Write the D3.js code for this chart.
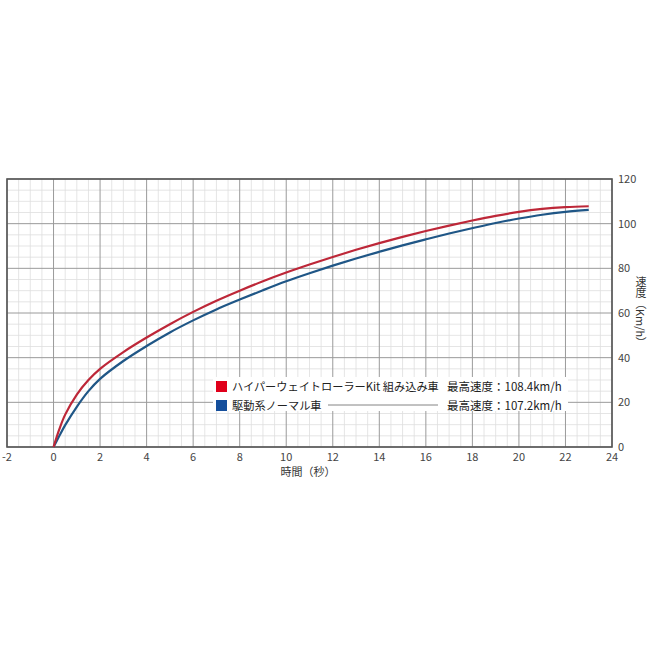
<!DOCTYPE html>
<html>
<head>
<meta charset="utf-8">
<script src="https://cdn.jsdelivr.net/npm/d3@7"></script>
<style>
    body { margin: 0; background: #fff; }
    text { font-family: "Noto Sans CJK JP", "Noto Sans", sans-serif; }
</style>
</head>
<body>
<div id="chart"></div>
<script>
// time (s)
const times = [0, 0.25, 0.5, 1, 1.5, 2, 3, 4, 5, 6, 7, 8, 9, 10, 11, 12, 13, 14, 15, 16, 17, 18, 19, 20, 21, 22, 23];
// speed km/h, high weight roller kit
const kitSpeed = [0, 8, 14.5, 23.5, 30, 35, 42.5, 49, 55, 60.5, 65.5, 70, 74.2, 78.1, 81.7, 85.1, 88.3, 91.3, 94.1, 96.7, 99.1, 101.4, 103.5, 105.3, 106.6, 107.4, 107.8];
// speed km/h, normal drive
const normalSpeed = [0, 5, 9.8, 18, 25, 30.5, 38.5, 45.2, 51.3, 56.7, 61.6, 66, 70.2, 74.2, 77.8, 81.2, 84.4, 87.4, 90.3, 93, 95.6, 98, 100.3, 102.3, 104, 105.3, 106.2];

const xTicks = d3.range(-2, 25, 2);
const yTicks = d3.range(0, 121, 20);
const legendNames = ['ハイパーウェイトローラーKit 組み込み車', '駆動系ノーマル車'];
const legendMax = ['最高速度：108.4km/h', '最高速度：107.2km/h'];

const svgWidth = 650;
const svgHeight = 650;

const svg = d3.select('#chart')
    .append('svg')
    .attr('width', svgWidth)
    .attr('height', svgHeight);

const x = d3.scaleLinear().domain([-2, 24]).range([7, 612]);
const y = d3.scaleLinear().domain([0, 120]).range([447, 179]);

// minor grid
svg.append('g')
    .selectAll('line')
    .data(d3.range(-2, 24.01, 0.5).filter(v => v % 2 !== 0))
    .join('line')
    .attr('x1', d => x(d)).attr('x2', d => x(d))
    .attr('y1', y(0)).attr('y2', y(120))
    .attr('stroke', '#dedede').attr('stroke-width', 0.8);

svg.append('g')
    .selectAll('line')
    .data(d3.range(0, 120.01, 5).filter(v => v % 20 !== 0))
    .join('line')
    .attr('x1', x(-2)).attr('x2', x(24))
    .attr('y1', d => y(d)).attr('y2', d => y(d))
    .attr('stroke', '#dedede').attr('stroke-width', 0.8);

// major grid
svg.append('g')
    .selectAll('line')
    .data(xTicks)
    .join('line')
    .attr('x1', d => x(d)).attr('x2', d => x(d))
    .attr('y1', y(0)).attr('y2', y(120))
    .attr('stroke', '#9a9a9a').attr('stroke-width', 1);

svg.append('g')
    .selectAll('line')
    .data(yTicks)
    .join('line')
    .attr('x1', x(-2)).attr('x2', x(24))
    .attr('y1', d => y(d)).attr('y2', d => y(d))
    .attr('stroke', '#9a9a9a').attr('stroke-width', 1);

// frame
svg.append('rect')
    .attr('x', x(-2)).attr('y', y(120))
    .attr('width', x(24) - x(-2)).attr('height', y(0) - y(120))
    .attr('fill', 'none')
    .attr('stroke', '#555').attr('stroke-width', 1.6);

// legend box (covers grid)
svg.append('rect')
    .attr('x', 213).attr('y', 377)
    .attr('width', 355).attr('height', 34)
    .attr('fill', '#fff');

// curves
const line = d3.line()
    .x(d => x(d[0]))
    .y(d => y(d[1]))
    .curve(d3.curveCatmullRom.alpha(0.5));

svg.append('path')
    .datum(times.map((t, i) => [t, normalSpeed[i]]))
    .attr('d', line)
    .attr('fill', 'none')
    .attr('stroke', '#1f5686')
    .attr('stroke-width', 2.2);

svg.append('path')
    .datum(times.map((t, i) => [t, kitSpeed[i]]))
    .attr('d', line)
    .attr('fill', 'none')
    .attr('stroke', '#bd2738')
    .attr('stroke-width', 2.2);

// x axis labels
svg.append('g')
    .selectAll('text')
    .data(xTicks)
    .join('text')
    .attr('x', d => x(d))
    .attr('y', 461)
    .attr('text-anchor', 'middle')
    .style('font-size', '11px')
    .style('fill', '#444')
    .text(d => d);

// y axis labels
svg.append('g')
    .selectAll('text')
    .data(yTicks)
    .join('text')
    .attr('x', 618)
    .attr('y', d => y(d) + 4)
    .style('font-size', '11px')
    .style('fill', '#444')
    .text(d => d);

// axis titles
svg.append('text')
    .attr('x', 308)
    .attr('y', 476)
    .attr('text-anchor', 'middle')
    .style('font-size', '11px')
    .style('fill', '#333')
    .text('時間（秒）');

svg.append('text')
    .attr('x', 641)
    .attr('y', 276)
    .style('writing-mode', 'vertical-rl')
    .style('font-size', '11px')
    .style('fill', '#333')
    .text('速度（Km/h）');

// legend
const legendColors = ['#e0001b', '#154f9c'];
const legendY = [386, 405];

svg.append('g')
    .selectAll('rect')
    .data(legendColors)
    .join('rect')
    .attr('x', 216)
    .attr('y', (d, i) => legendY[i] - 5)
    .attr('width', 11).attr('height', 11)
    .attr('fill', d => d);

svg.append('g')
    .selectAll('text')
    .data(legendNames)
    .join('text')
    .attr('x', 232)
    .attr('y', (d, i) => legendY[i] + 4.5)
    .style('font-size', '11.2px')
    .style('fill', '#222')
    .text(d => d);

svg.append('g')
    .selectAll('text')
    .data(legendMax)
    .join('text')
    .attr('x', 447)
    .attr('y', (d, i) => legendY[i] + 4.5)
    .style('font-size', '11.5px')
    .style('fill', '#222')
    .text(d => d);

svg.append('line')
    .attr('x1', 328).attr('x2', 438)
    .attr('y1', legendY[1]).attr('y2', legendY[1])
    .attr('stroke', '#666').attr('stroke-width', 0.8);
</script>
</body>
</html>
